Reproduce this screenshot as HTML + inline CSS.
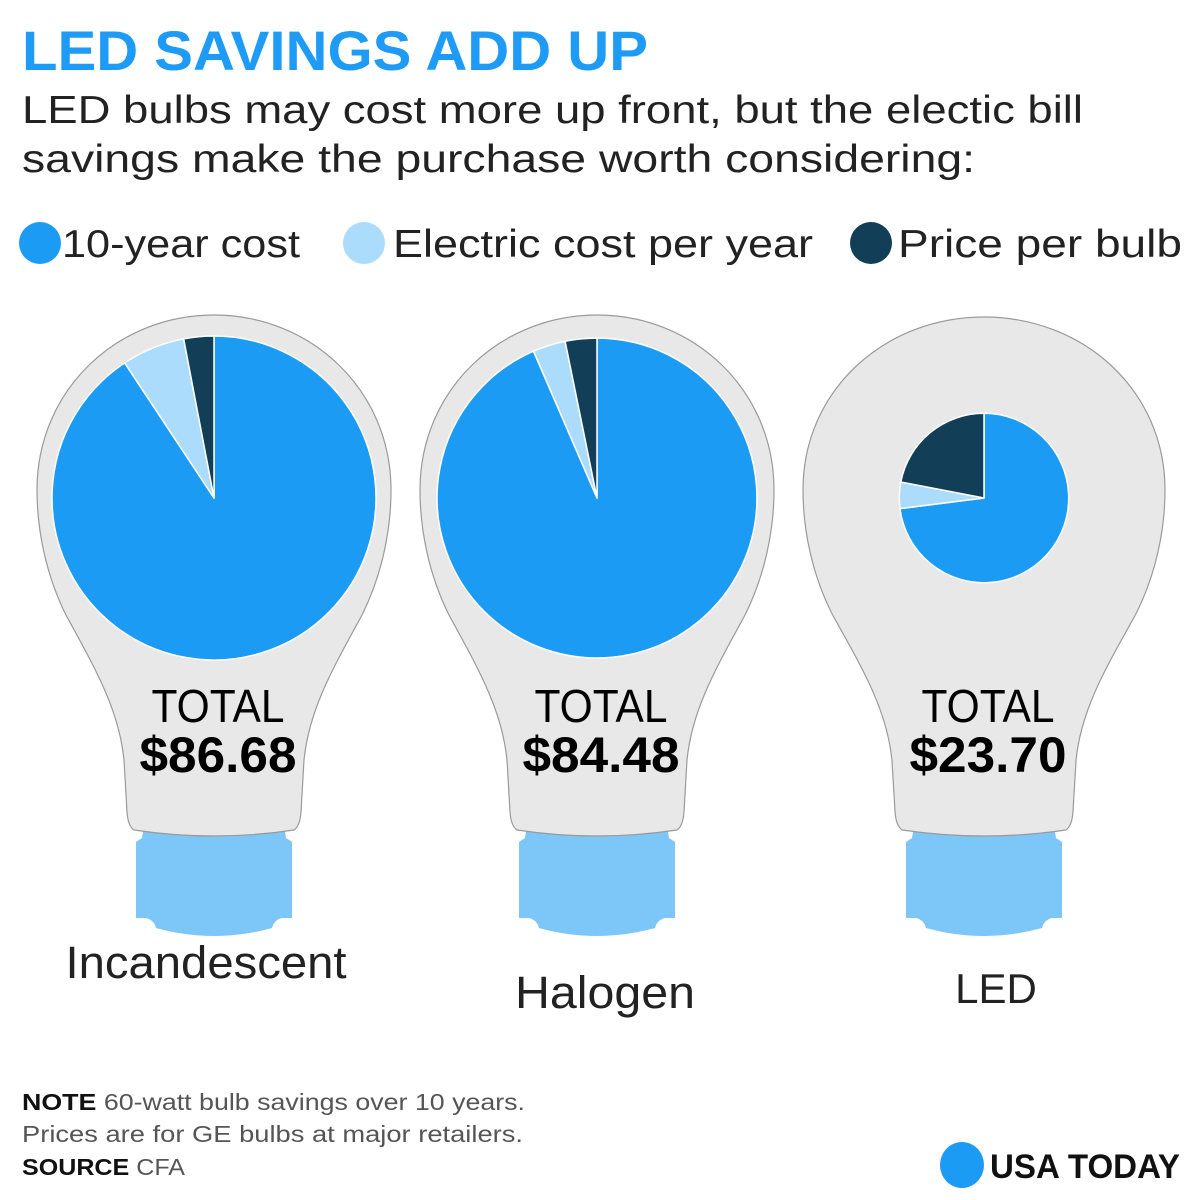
<!DOCTYPE html>
<html><head><meta charset="utf-8"><style>
html,body{margin:0;padding:0;background:#fff;}
svg{display:block;font-family:"Liberation Sans",sans-serif;}
</style></head><body>
<svg id="chart" width="1200" height="1200" viewBox="0 0 1200 1200">
<text x="22" y="70" font-size="56" font-weight="bold" fill="#1d9bf6" textLength="626" lengthAdjust="spacingAndGlyphs">LED SAVINGS ADD UP</text>
<text x="22" y="123" font-size="39" fill="#222" textLength="1061" lengthAdjust="spacingAndGlyphs">LED bulbs may cost more up front, but the electic bill</text>
<text x="22" y="172" font-size="39" fill="#222" textLength="953" lengthAdjust="spacingAndGlyphs">savings make the purchase worth considering:</text>

<g>
<g>
<circle cx="40" cy="243" r="21" fill="#1c9bf5"/>
<text x="62" y="257" font-size="39" fill="#222" textLength="238" lengthAdjust="spacingAndGlyphs">10-year cost</text></g>
<g>
<circle cx="364" cy="243" r="21" fill="#abdcfb"/>
<text x="393" y="257" font-size="39" fill="#222" textLength="420" lengthAdjust="spacingAndGlyphs">Electric cost per year</text></g>
<g>
<circle cx="871" cy="243" r="21" fill="#123f57"/>
<text x="898" y="257" font-size="39" fill="#222" textLength="284" lengthAdjust="spacingAndGlyphs">Price per bulb</text></g>
</g>

<g id="bulbs"></g>

<g>
<text x="22" y="1110" font-size="23" fill="#555" textLength="503" lengthAdjust="spacingAndGlyphs"><tspan font-weight="bold" fill="#111">NOTE</tspan> 60-watt bulb savings over 10 years.</text>
<text x="22" y="1142" font-size="23" fill="#555" textLength="501" lengthAdjust="spacingAndGlyphs">Prices are for GE bulbs at major retailers.</text>
<text x="22" y="1175" font-size="23" fill="#555" textLength="163" lengthAdjust="spacingAndGlyphs"><tspan font-weight="bold" fill="#111">SOURCE</tspan> CFA</text>
<ellipse cx="962" cy="1165" rx="22" ry="23" fill="#1c9bf5"/>
<text x="990" y="1178" font-size="34" font-weight="bold" fill="#111" textLength="190" lengthAdjust="spacingAndGlyphs">USA TODAY</text>
</g>
</svg>
<script>
const categories = ["Incandescent", "Halogen", "LED"];
const totals = [86.68, 84.48, 23.70];
const tenYearCost = [78.62, 78.99, 17.30];
const electricCost = [5.46, 2.79, 1.19];
const pricePerBulb = [2.60, 2.70, 5.21];
const totalLabels = ["$86.68", "$84.48", "$23.70"];

const NS = "http://www.w3.org/2000/svg";
const centersX = [214, 597, 984];
const labelX = [206, 605, 996];
const labelY = [978, 1008, 1003];
const labelSize = [45, 45, 42];
const labelLen = [281, 180, 0];
const pieCY = 498;
const rScale = 162 / Math.sqrt(86.68);
const colors = ["#1c9bf5", "#abdcfb", "#123f57"];
const g = document.getElementById("bulbs");

function mk(tag, attrs, parent) {
  const e = document.createElementNS(NS, tag);
  for (const k in attrs) e.setAttribute(k, attrs[k]);
  parent.appendChild(e);
  return e;
}
function pt(cx, cy, r, a) { return [cx + r * Math.sin(a), cy - r * Math.cos(a)]; }

categories.forEach((cat, i) => {
  const cx = centersX[i];
  const grp = mk("g", {}, g);
  
  
  const base = mk("path", {fill: "#7cc6f8", d:
    `M${cx-70},826 L${cx+70},826 L${cx+72},838 L${cx+78},842 L${cx+78},918 L${cx+68},918 Q${cx+60},920 ${cx+58},928 Q${cx},944 ${cx-58},928 Q${cx-60},920 ${cx-68},918 L${cx-78},918 L${cx-78},842 L${cx-72},838 Z`}, grp);
  
  
  const s = i === 2 ? 181 / 177 : 1;
  const X = d => cx + d * s;
  const top = i === 2 ? 317 : 315;
  const glass = mk("path", {fill: "#e8e8e8", stroke: "#9a9a9a", "stroke-width": 1.2, d:
    `M${X(-80)},830 Q${X(-86)},826 ${X(-87)},812 L${X(-90)},760 C${X(-95)},710 ${X(-118)},670 ${X(-148)},615 C${X(-168)},575 ${X(-177)},530 ${X(-177)},490 C${X(-177)},390 ${X(-97)},${top} ${X(0)},${top} C${X(97)},${top} ${X(177)},390 ${X(177)},490 C${X(177)},530 ${X(168)},575 ${X(148)},615 C${X(118)},670 ${X(95)},710 ${X(90)},760 L${X(87)},812 Q${X(86)},826 ${X(80)},830 Q${X(0)},842 ${X(-80)},830 Z`}, grp);
  
  
  const r = rScale * Math.sqrt(totals[i]);
  const vals = [tenYearCost[i], electricCost[i], pricePerBulb[i]];
  const names = ["slice-10-year-cost", "slice-electric-cost", "slice-price-per-bulb"];
  const sum = vals.reduce((a, b) => a + b, 0);
  let a0 = 0;
  vals.forEach((v, j) => {
    const a1 = a0 + v / sum * 2 * Math.PI;
    const p0 = pt(cx, pieCY, r, a0), p1 = pt(cx, pieCY, r, a1);
    const large = (a1 - a0) > Math.PI ? 1 : 0;
    const sl = mk("path", {fill: colors[j], stroke: "#fff", "stroke-width": 1.5, "stroke-linejoin": "round",
      d: `M${cx},${pieCY} L${p0[0]},${p0[1]} A${r} ${r} 0 ${large} 1 ${p1[0]},${p1[1]} Z`}, grp);
    
    
    a0 = a1;
  });
  const t1 = mk("text", {x: cx + 4, y: 722, "font-size": 46, "text-anchor": "middle", fill: "#000", textLength: 133, lengthAdjust: "spacingAndGlyphs"}, grp);
  t1.textContent = "TOTAL";
  
  
  const t2 = mk("text", {x: cx + 4, y: 772, "font-size": 50, "font-weight": "bold", "text-anchor": "middle", fill: "#000", textLength: 157, lengthAdjust: "spacingAndGlyphs"}, grp);
  t2.textContent = totalLabels[i];
  
  
  const la = {x: labelX[i], y: labelY[i], "font-size": labelSize[i], "text-anchor": "middle", fill: "#222"};
  if (labelLen[i]) { la.textLength = labelLen[i]; la.lengthAdjust = "spacingAndGlyphs"; }
  const lb = mk("text", la, grp);
  lb.textContent = cat;
  
  
});
</script>
</body></html>
